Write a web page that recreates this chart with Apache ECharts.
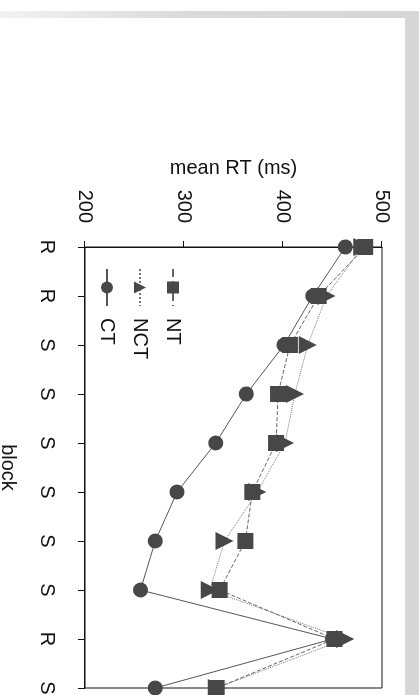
<!DOCTYPE html>
<html>
<head>
<meta charset="utf-8">
<script src="https://cdn.jsdelivr.net/npm/echarts@6/dist/echarts.min.js"></script>
<style>
  html, body { margin: 0; padding: 0; width: 419px; height: 695px; overflow: hidden; background: #ffffff; position: relative; }
  #chart { position: absolute; left: 0; top: 0; width: 695px; height: 419px;
           transform-origin: 0 0; transform: translate(419px, 0) rotate(90deg); }
  .scanR { position: absolute; left: 405px; top: 11px; width: 14px; height: 684px; background: #d6d6d6; }
  .scanT { position: absolute; left: 0; top: 11px; width: 419px; height: 7px;
           background: linear-gradient(to right, #f2f2f2, #dadada 45%, #d6d6d6); }
</style>
</head>
<body>
<div class="scanT"></div>
<div class="scanR"></div>
<div id="chart"></div>
<script>
// Data (read from the rotated, scanned figure)
const blocks = ['R', 'R', 'S', 'S', 'S', 'S', 'S', 'S', 'R', 'S'];
const ntValues  = [483, 436, 407, 395, 393, 369, 362, 336, 452, 333];
const nctValues = [480, 444, 425, 412, 402, 374, 341, 326, 463, 333];
const ctValues  = [463, 430, 401, 363, 332, 293, 271, 256, 450, 271];
const valueTicks = [200, 300, 400, 500];

const chart = echarts.init(document.getElementById('chart'), null, { renderer: 'canvas' });
const FONT = 'Liberation Sans, Arial, Helvetica, sans-serif';
const markColor = '#474747';

chart.setOption({
  animation: false,
  backgroundColor: 'transparent',
  grid: {
    left: 247, right: 7, top: 37, bottom: 85,
    outerBoundsMode: 'none',
    containLabel: false,
    show: true, borderColor: '#111', borderWidth: 1
  },
  legend: {
    orient: 'vertical',
    left: 263, top: 231,
    itemWidth: 37, itemHeight: 15, itemGap: 13,
    data: ['NT', 'NCT', 'CT'],
    textStyle: { fontFamily: FONT, fontSize: 20, color: '#111', padding: [0, 0, 0, 7] }
  },
  xAxis: {
    type: 'category',
    data: blocks,
    boundaryGap: false,
    name: 'block',
    nameLocation: 'middle',
    nameGap: 67,
    nameTextStyle: { fontFamily: FONT, fontSize: 20, color: '#111' },
    axisLine: { lineStyle: { color: '#111', width: 1 } },
    axisTick: { show: true, inside: false, length: 7, alignWithLabel: true, lineStyle: { color: '#111' } },
    axisLabel: { fontFamily: FONT, fontSize: 20, color: '#111', margin: 28 },
    splitLine: { show: false }
  },
  yAxis: {
    type: 'value',
    min: valueTicks[0],
    max: valueTicks[valueTicks.length - 1],
    interval: valueTicks[1] - valueTicks[0],
    name: 'mean RT (ms)',
    nameLocation: 'middle',
    nameRotate: 90,
    nameGap: 69,
    nameTextStyle: { fontFamily: FONT, fontSize: 20, color: '#111' },
    axisLine: { show: true, lineStyle: { color: '#111', width: 1 } },
    axisTick: { show: true, inside: false, length: 6, lineStyle: { color: '#111' } },
    axisLabel: { fontFamily: FONT, fontSize: 20, color: '#111', margin: 24 },
    splitLine: { show: false }
  },
  series: [
    {
      name: 'NT', type: 'line', data: ntValues,
      symbol: 'rect', symbolSize: 16,
      itemStyle: { color: markColor },
      lineStyle: { color: '#666', width: 1, type: 'dashed' },
      z: 3
    },
    {
      name: 'NCT', type: 'line', data: nctValues,
      symbol: 'triangle', symbolSize: 18,
      itemStyle: { color: markColor },
      lineStyle: { color: '#777', width: 1, type: 'dotted' },
      z: 2
    },
    {
      name: 'CT', type: 'line', data: ctValues,
      symbol: 'circle', symbolSize: 15,
      itemStyle: { color: markColor },
      lineStyle: { color: '#555', width: 1, type: 'solid' },
      z: 4
    }
  ]
});
</script>
</body>
</html>
